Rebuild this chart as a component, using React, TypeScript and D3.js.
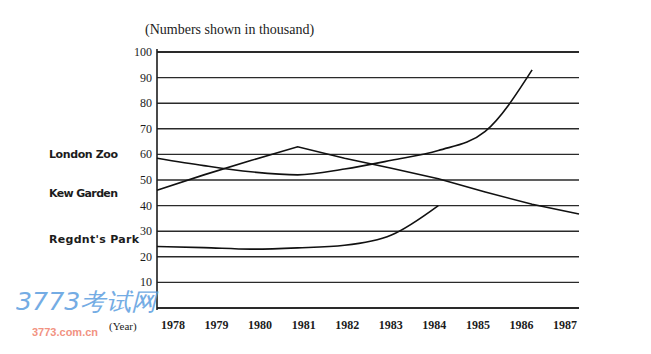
import React from 'react'
import * as d3 from 'd3'

const W = 651
const H = 354

const YEARS = [1978, 1979, 1980, 1981, 1982, 1983, 1984, 1985, 1986, 1987]
const Y_TICKS = [0, 10, 20, 30, 40, 50, 60, 70, 80, 90, 100]

// values, in thousands
const LONDON_ZOO = [58.5, 55.6, 53.2, 52, 54.3, 57.7, 61.5, 69, 93]
const KEW_GARDEN = [46, 52, 57.6, 63, 58.5, 54.6, 50.5, 45.3, 40.5, 36.7]
const REGENTS_PARK = [24, 23.6, 23, 23.5, 24.5, 28.5, 40]

const SERIES_LABELS = [
  { name: 'London Zoo', value: 60, width: 69 },
  { name: 'Kew Garden', value: 45, width: 69 },
  { name: "Regdnt's Park", value: 27, width: 90 },
]

const PLOT = { left: 157, right: 579, top: 52, bottom: 308 }
const INK = '#1c1c1c'

export default function App() {
  const x = d3.scaleLinear().domain([1978, 1987]).range([PLOT.left, PLOT.right])
  const y = d3.scaleLinear().domain([0, 100]).range([PLOT.bottom, PLOT.top])
  // year labels sit a little off the data positions in the original
  const xLab = d3.scalePoint<number>().domain(YEARS).range([173, 565])

  const smooth = d3.line<number>()
    .x((_, i) => x(YEARS[i]))
    .y(d => y(d))
    .curve(d3.curveMonotoneX)
  const straight = d3.line<number>()
    .x((_, i) => x(YEARS[i]))
    .y(d => y(d))

  const serif = '"Liberation Serif", "DejaVu Serif", serif'
  const sans = '"DejaVu Sans", "Noto Sans", sans-serif'

  return (
    <svg width={W} height={H} style={{ position: 'absolute', left: 0, top: 0, background: '#fff' }}>
      <text x={145} y={34} fontFamily={serif} fontSize={14} fill={INK}>
        (Numbers shown in thousand)
      </text>

      {/* grid lines */}
      {Y_TICKS.map(t => (
        <line key={t} x1={PLOT.left} x2={PLOT.right} y1={y(t)} y2={y(t)}
          stroke="#2a2a2a" strokeWidth={t === 100 || t === 0 ? 1.8 : 1.4} />
      ))}
      <line x1={PLOT.left} x2={PLOT.left} y1={PLOT.top - 3} y2={PLOT.bottom + 2} stroke={INK} strokeWidth={1.6} />

      {Y_TICKS.filter(t => t > 0).map(t => (
        <text key={t} x={152} y={y(t) + 4} textAnchor="end" fontFamily={serif} fontSize={12} fill={INK}>
          {t}
        </text>
      ))}

      {YEARS.map(yr => (
        <text key={yr} x={xLab(yr)} y={329} textAnchor="middle" fontFamily={serif} fontSize={12}
          fontWeight="bold" fill={INK}>
          {yr}
        </text>
      ))}
      <text x={109} y={330} fontFamily={serif} fontSize={11} fill={INK}>(Year)</text>

      {/* series */}
      <path d={smooth(LONDON_ZOO) || ''} fill="none" stroke="#111" strokeWidth={1.6} />
      <path d={straight(KEW_GARDEN) || ''} fill="none" stroke="#111" strokeWidth={1.6} />
      <path d={smooth(REGENTS_PARK) || ''} fill="none" stroke="#111" strokeWidth={1.6} />

      {SERIES_LABELS.map(s => (
        <text key={s.name} x={49} y={y(s.value) + 4} fontFamily={sans} fontSize={11} fontWeight="bold"
          fill={INK} textLength={s.width} lengthAdjust="spacing">
          {s.name}
        </text>
      ))}

      {/* watermark */}
      <text x={16} y={310} fontFamily={sans} fontSize={24} fontStyle="italic" fill="#5c9ee0" opacity={0.85}
        textLength={140} lengthAdjust="spacingAndGlyphs">
        3773考试网
      </text>
      <text x={32} y={336} fontFamily='"Liberation Sans", Arial, sans-serif' fontSize={11} fontWeight="bold"
        fill="#f07f6c" opacity={0.85}>
        3773.com.cn
      </text>
    </svg>
  )
}
